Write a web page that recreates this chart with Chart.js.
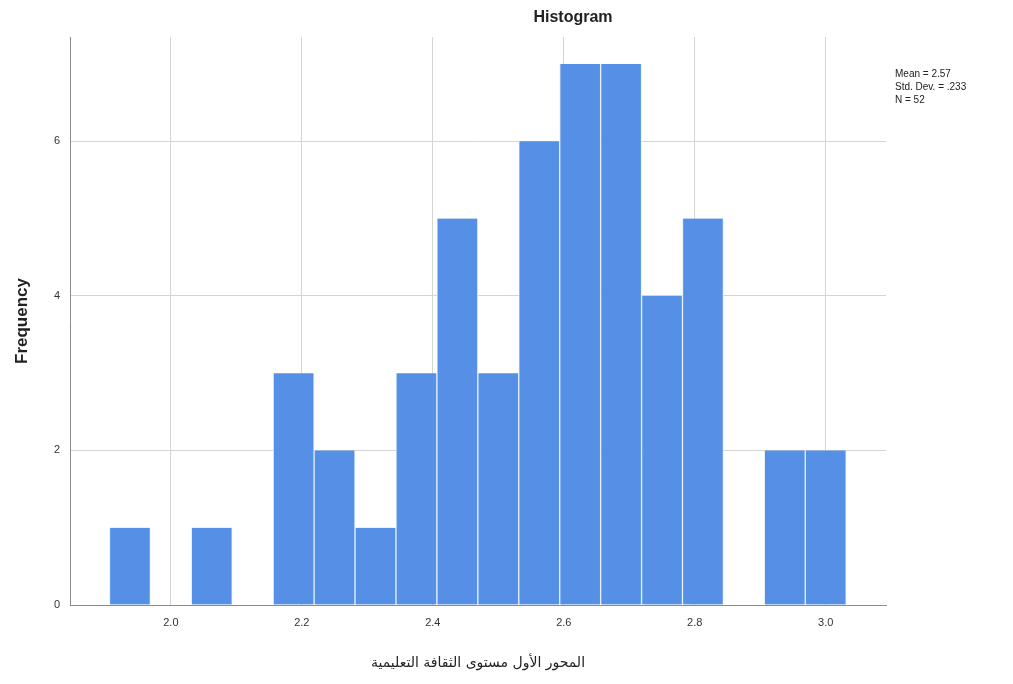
<!DOCTYPE html>
<html>
<head>
<meta charset="utf-8">
<title>Histogram</title>
<script src="https://cdn.jsdelivr.net/npm/chart.js@4"></script>
<style>
  html, body { margin: 0; padding: 0; background: #fff; }
  #wrap { position: relative; width: 1013px; height: 684px; }
</style>
</head>
<body>
<div id="wrap"><canvas id="histChart" width="1013" height="684"></canvas></div>
<script>
// 階級の中心値（幅 1/16）
const binCenters = [1.9375, 2.0, 2.0625, 2.125, 2.1875, 2.25, 2.3125, 2.375, 2.4375,
                    2.5, 2.5625, 2.625, 2.6875, 2.75, 2.8125, 2.875, 2.9375, 3.0];
// 度数
const frequencies = [1, 0, 1, 0, 3, 2, 1, 3, 5, 3, 6, 7, 7, 4, 5, 0, 2, 2];
// 統計量
const statLines = ["Mean = 2.57", "Std. Dev. = .233", "N = 52"];
const titleText = "Histogram";
const xTitle = "المحور الأول مستوى الثقافة التعليمية";
const yTitle = "Frequency";

const FONT = "'Liberation Sans', Arial, sans-serif";

// タイトルと統計量の描画
const textPlugin = {
  id: "extraText",
  afterDraw(c) {
    const ctx = c.ctx;
    const area = c.chartArea;
    ctx.save();
    ctx.fillStyle = "#222";
    ctx.font = "bold 16px " + FONT;
    ctx.textAlign = "center";
    ctx.textBaseline = "middle";
    ctx.fillText(titleText, 573, 18);

    ctx.font = "10px " + FONT;
    ctx.textAlign = "left";
    statLines.forEach((s, i) => ctx.fillText(s, area.right + 9, 74 + i * 13));
    ctx.restore();
  }
};

const ctx = document.getElementById("histChart").getContext("2d");
const chart = new Chart(ctx, {
  type: "bar",
  data: {
    datasets: [{
      data: binCenters.map((x, i) => ({ x: x, y: frequencies[i] })),
      backgroundColor: "#5590e6",
      borderColor: "#e6effb",
      borderWidth: { left: 1, right: 1, top: 0, bottom: 0 },
      borderSkipped: false,
      barPercentage: 1.0,
      categoryPercentage: 1.0,
      grouped: false
    }]
  },
  options: {
    responsive: false,
    animation: false,
    events: [],
    layout: { padding: { left: 0, right: 127, top: 37, bottom: 0 } },
    plugins: {
      legend: { display: false },
      tooltip: { enabled: false }
    },
    scales: {
      x: {
        type: "linear",
        offset: false,
        min: 1.846,
        max: 3.092,
        afterFit(s) { s.height = 79; },
        ticks: {
          stepSize: 0.2,
          includeBounds: false,
          color: "#333",
          font: { family: FONT, size: 11 },
          padding: 11,
          callback: v => v.toFixed(1)
        },
        grid: { color: "#d4d4d4", drawTicks: false, offset: false },
        border: { color: "#8a8a8a", width: 1 },
        title: {
          display: true,
          text: xTitle,
          color: "#222",
          font: { family: "'DejaVu Sans', sans-serif", size: 14 },
          padding: { top: 0, bottom: 12 }
        }
      },
      y: {
        min: 0,
        max: 7.35,
        afterFit(s) { s.width = 70; },
        ticks: {
          stepSize: 2,
          includeBounds: false,
          color: "#333",
          font: { family: FONT, size: 11 },
          padding: 10
        },
        grid: { color: "#d4d4d4", drawTicks: false },
        border: { color: "#8a8a8a", width: 1 },
        title: {
          display: true,
          text: yTitle,
          color: "#222",
          font: { family: FONT, size: 17, weight: "bold" },
          padding: { top: 12, bottom: 0 }
        }
      }
    }
  },
  plugins: [textPlugin]
});
</script>
</body>
</html>
